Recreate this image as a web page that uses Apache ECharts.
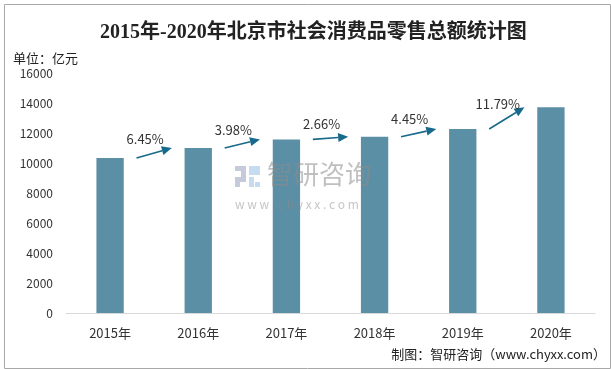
<!DOCTYPE html>
<html><head><meta charset="utf-8">
<script src="https://cdn.jsdelivr.net/npm/echarts@6/dist/echarts.min.js"></script>
<style>html,body{margin:0;padding:0;background:#fff}#c{width:611px;height:369px}</style>
</head><body><div id="c"></div>
<script>
const categories = ['2015年','2016年','2017年','2018年','2019年','2020年'];
const values = [10338, 11005, 11575, 11748, 12270, 13716];
const growthLabels = ['6.45%','3.98%','2.66%','4.45%','11.79%'];
const yTicks = [0,2000,4000,6000,8000,10000,12000,14000,16000];

const arrowData = growthLabels.map((g,i)=>[i, values[i], values[i+1], g]);
const chart = echarts.init(document.getElementById('c'));
const FONT = '"Noto Sans CJK SC","Noto Sans",sans-serif';
const WM_Z = 100;
chart.setOption({
  animation:false,
  title:{text:'2015年-2020年北京市社会消费品零售总额统计图',left:95,top:18,
    textStyle:{fontFamily:'"Liberation Serif","Noto Sans CJK SC",serif',fontWeight:'bold',fontSize:20,color:'#222'}},
  grid:{left:66,right:16,top:73,bottom:56},
  xAxis:{type:'category',data:categories,
    axisLine:{lineStyle:{color:'#d9d9d9'}},axisTick:{show:false},
    axisLabel:{color:'#333',fontSize:13,fontFamily:FONT,margin:14}},
  yAxis:{type:'value',min:yTicks[0],max:yTicks[yTicks.length-1],interval:2000,
    axisLine:{show:false},axisTick:{show:false},splitLine:{show:false},
    axisLabel:{color:'#333',fontSize:12,fontFamily:FONT,margin:13,formatter:v=>String(v)}},
  graphic:[
    {type:'rect',left:2,top:2,shape:{width:606,height:364},style:{fill:'none',stroke:'#a8a8a8',lineWidth:1},silent:true},
    {type:'text',left:13,top:52,style:{text:'单位：亿元',font:'13px '+FONT,fill:'#222'}},
    {type:'text',right:5,top:348,style:{text:'制图：智研咨询（www.chyxx.com）',font:'13px '+FONT,fill:'#222'}},
    {type:'rect',z:WM_Z,left:235,top:166,shape:{width:11,height:5},style:{fill:'rgba(150,160,190,0.55)'}},
    {type:'rect',z:WM_Z,left:241,top:171,shape:{width:5,height:6},style:{fill:'rgba(150,160,190,0.55)'}},
    {type:'rect',z:WM_Z,left:235,top:177,shape:{width:11,height:5},style:{fill:'rgba(150,160,190,0.55)'}},
    {type:'rect',z:WM_Z,left:235,top:182,shape:{width:5,height:5},style:{fill:'rgba(150,160,190,0.55)'}},
    {type:'rect',z:WM_Z,left:249,top:166,shape:{width:11,height:9},style:{fill:'rgba(150,190,225,0.55)'}},
    {type:'rect',z:WM_Z,left:249,top:177,shape:{width:5,height:10},style:{fill:'rgba(150,190,225,0.55)'}},
    {type:'rect',z:WM_Z,left:255,top:182,shape:{width:5,height:5},style:{fill:'rgba(150,190,225,0.55)'}},
    {type:'text',z:WM_Z,left:267,top:161,style:{text:'智研咨询',font:'26px '+FONT,fill:'rgba(140,140,140,0.55)'}},
    {type:'text',z:WM_Z,left:235,top:198,style:{text:'w w w . c h y x x . c o m',font:'12px '+FONT,fill:'rgba(140,140,140,0.5)'}}
  ],
  series:[
    {type:'bar',data:values,barWidth:'31%',itemStyle:{color:'#5b8fa5'},z:2},
    {type:'custom',data:arrowData,z:5,encode:{x:0,y:1},
      renderItem:function(params,api){
        const i=api.value(0);
        const p0=api.coord([i,api.value(1)]);
        const p1=api.coord([i+1,api.value(2)]);
        const dx=p1[0]-p0[0];
        const sx=p0[0]+0.3*dx, sy=p0[1];
        const ex=p0[0]+0.7*dx, ey=p1[1];
        const ang=Math.atan2(ey-sy,ex-sx);
        const L=10,W=4.5;
        const bx=ex-L*Math.cos(ang), by=ey-L*Math.sin(ang);
        const nx=-Math.sin(ang), ny=Math.cos(ang);
        const color='#176a8b';
        return {type:'group',children:[
          {type:'line',shape:{x1:sx,y1:sy,x2:bx,y2:by},style:{stroke:color,lineWidth:1.6}},
          {type:'polygon',shape:{points:[[ex,ey],[bx+nx*W,by+ny*W],[bx-nx*W,by-ny*W]]},style:{fill:color}},
          {type:'text',x:(sx+ex)/2-9,y:(sy+ey)/2-14,style:{text:arrowData[params.dataIndex][3],
            font:'13px '+FONT,fill:'#333',align:'center',verticalAlign:'middle'}}
        ]};
      }}
  ]
});
</script></body></html>
